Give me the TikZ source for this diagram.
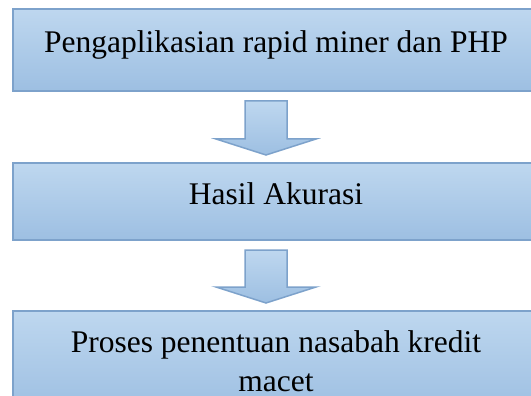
\documentclass[tikz,border=0pt]{standalone}
\usepackage{fontspec}
\setmainfont{Liberation Serif}
\usepackage{tikz}
\usetikzlibrary{positioning,calc}
\definecolor{boxtop}{HTML}{BED7EF}
\definecolor{boxbottom}{HTML}{9DBFE2}
\definecolor{boxedge}{HTML}{7DA2CB}
\tikzset{
  stagebox/.style={
    rectangle, draw=boxedge, line width=2pt, outer sep=0pt,
    top color=boxtop, bottom color=boxbottom,
    minimum width=526pt, align=center,
    font=\rmfamily\fontsize{31.5}{39}\selectfont
  },
  blockarrow/.style={draw=boxedge, line width=1.5pt, line join=miter,
    top color=boxtop, bottom color=boxbottom}
}
% fat down arrow from under #1 to above #2
\newcommand{\downblock}[2]{%
  \draw[blockarrow] let \p1=(#1), \p2=(#2) in
    (\x1-21pt,\y1-10pt) -- (\x1+21pt,\y1-10pt) -- (\x1+21pt,\y2+24pt)
    -- (\x1+50pt,\y2+24pt) -- (\x1,\y2+8pt) -- (\x1-50pt,\y2+24pt)
    -- (\x1-21pt,\y2+24pt) -- cycle;}

\begin{document}
\begin{tikzpicture}[x=1pt,y=1pt]
\clip (0,0) rectangle (531,-396);
\node[stagebox, minimum height=82pt, text height=22pt, text depth=16pt] (apply) at (276,-50) {Pengaplikasian rapid miner dan PHP};
\node[stagebox, minimum height=77pt, text height=22pt, text depth=16pt, below=72pt of apply] (accuracy) {Hasil Akurasi};
\node[stagebox, minimum height=100pt, below=71pt of accuracy] (decide) {Proses penentuan nasabah kredit\\ macet};

\downblock{[xshift=-10pt]apply.south}{[xshift=-10pt]accuracy.north}
\downblock{[xshift=-10pt]accuracy.south}{[xshift=-10pt]decide.north}
\end{tikzpicture}
\end{document}
